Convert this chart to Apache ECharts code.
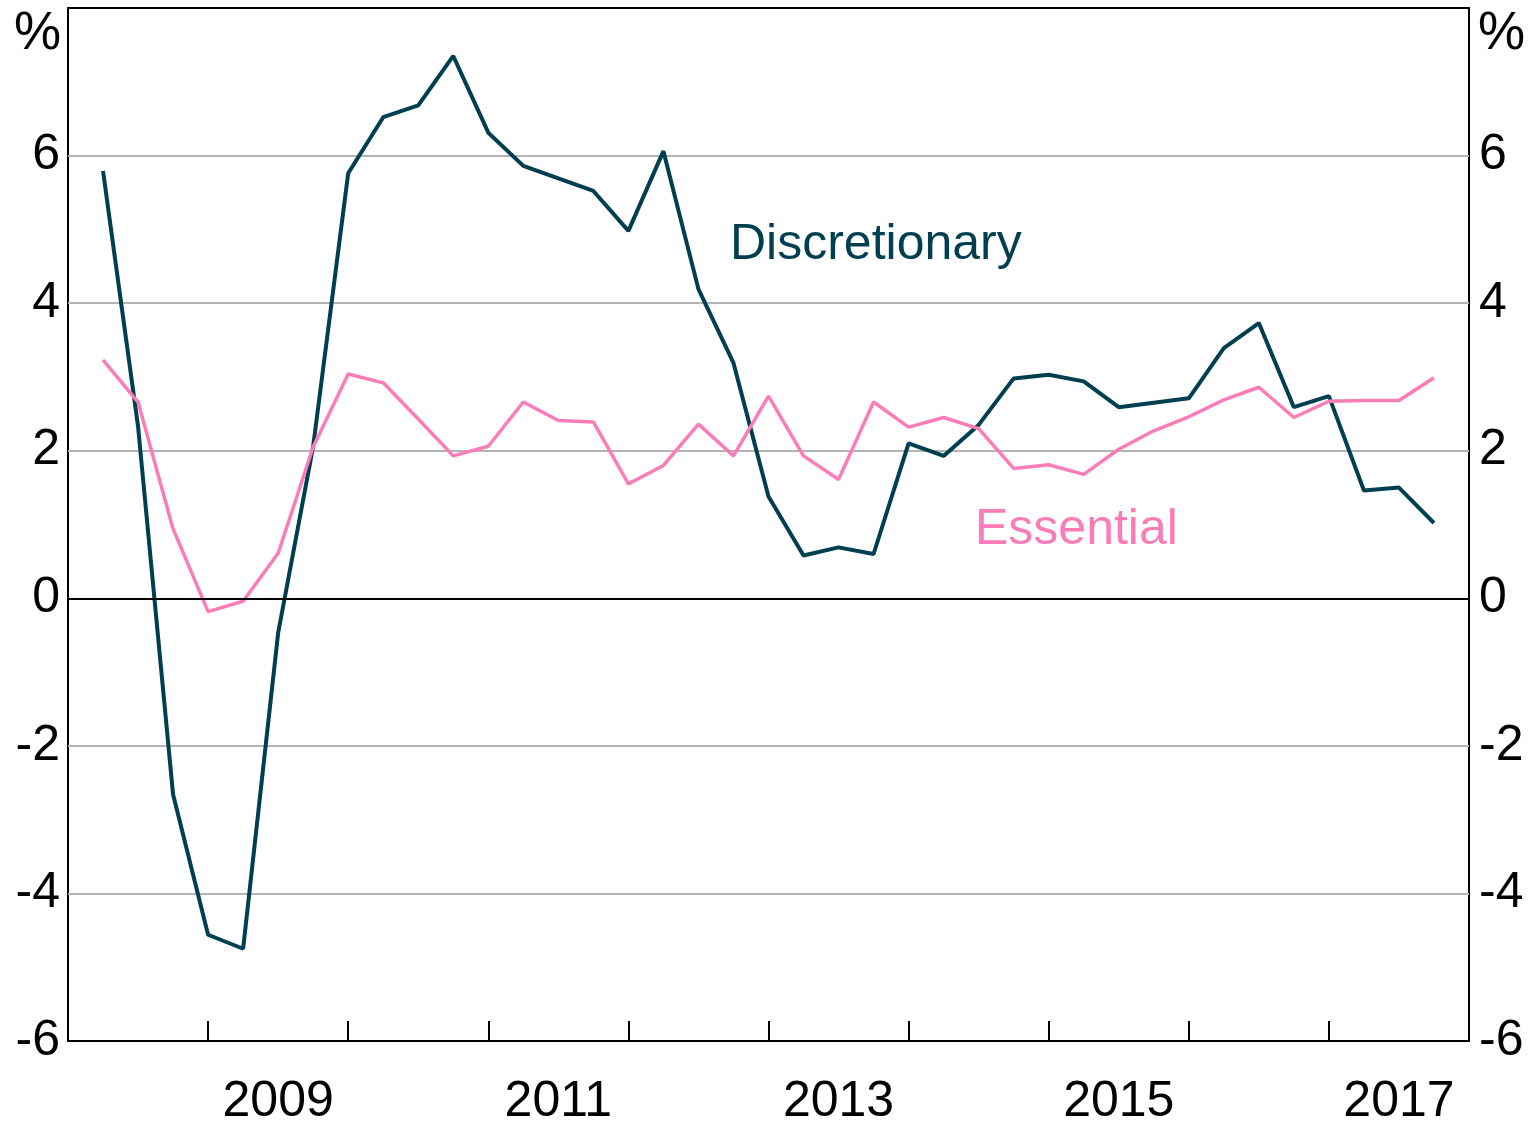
<!DOCTYPE html>
<html>
<head>
<meta charset="utf-8">
<script src="https://cdn.jsdelivr.net/npm/echarts@6/dist/echarts.min.js"></script>
<style>
html, body { margin: 0; padding: 0; background: #fff; }
#chart { width: 1534px; height: 1121px; }
</style>
</head>
<body>
<div id="chart"></div>
<script>
// quarterly observations, plotted as fractional years
var quarters = [2008.25, 2008.5, 2008.75, 2009, 2009.25, 2009.5, 2009.75, 2010, 2010.25, 2010.5,
    2010.75, 2011, 2011.25, 2011.5, 2011.75, 2012, 2012.25, 2012.5, 2012.75, 2013,
    2013.25, 2013.5, 2013.75, 2014, 2014.25, 2014.5, 2014.75, 2015, 2015.25, 2015.5,
    2015.75, 2016, 2016.25, 2016.5, 2016.75, 2017, 2017.25, 2017.5, 2017.75];
var discretionary = [5.79, 2.33, -2.66, -4.56, -4.75, -0.47, 2.06, 5.76, 6.52, 6.68,
    7.35, 6.31, 5.86, 5.69, 5.52, 4.98, 6.06, 4.19, 3.19, 1.38,
    0.58, 0.69, 0.60, 2.10, 1.93, 2.35, 2.98, 3.03, 2.94, 2.59,
    2.65, 2.71, 3.39, 3.73, 2.59, 2.74, 1.46, 1.50, 1.02];
var essential = [3.23, 2.66, 0.94, -0.18, -0.04, 0.61, 2.05, 3.04, 2.92, 2.43,
    1.93, 2.06, 2.66, 2.41, 2.39, 1.55, 1.80, 2.36, 1.93, 2.74,
    1.93, 1.61, 2.66, 2.32, 2.45, 2.30, 1.76, 1.81, 1.68, 2.02,
    2.27, 2.46, 2.69, 2.86, 2.45, 2.67, 2.68, 2.68, 2.99];
var tickYears = [2009, 2010, 2011, 2012, 2013, 2014, 2015, 2016, 2017];
var labelYears = [2009.5, 2011.5, 2013.5, 2015.5, 2017.5];

function pairs(xs, ys) {
    return ys.map(function (v, i) { return [xs[i], v]; });
}

var font = 'Liberation Sans, Arial, Helvetica, sans-serif';
var yLabel = {
    fontSize: 50,
    fontFamily: font,
    color: '#000',
    formatter: function (v) { return v === 8 ? '' : String(v); }
};

var option = {
    animation: false,
    backgroundColor: '#fff',
    grid: {
        left: 68,
        right: 65,
        top: 8,
        bottom: 80,
        outerBoundsMode: 'none',
        show: true,
        borderColor: '#000',
        borderWidth: 2
    },
    xAxis: {
        type: 'value',
        min: 2008,
        max: 2018,
        axisLine: { show: true, onZero: false, lineStyle: { color: '#000', width: 2 } },
        axisTick: {
            show: true,
            inside: true,
            length: 20,
            customValues: tickYears,
            lineStyle: { color: '#000', width: 2 }
        },
        axisLabel: {
            customValues: labelYears,
            fontSize: 50,
            fontFamily: font,
            color: '#000',
            margin: 36,
            formatter: function (v) { return String(Math.floor(v)); }
        },
        splitLine: { show: false }
    },
    yAxis: [
        {
            type: 'value',
            min: -6,
            max: 8,
            interval: 2,
            position: 'left',
            axisLine: { show: false },
            axisTick: { show: false },
            axisLabel: Object.assign({ margin: 8 }, yLabel),
            splitLine: {
                show: true,
                showMinLine: false,
                showMaxLine: false,
                lineStyle: { color: '#b4b4b4', width: 2 }
            }
        },
        {
            type: 'value',
            min: -6,
            max: 8,
            interval: 2,
            position: 'right',
            axisLine: { show: false },
            axisTick: { show: false },
            axisLabel: Object.assign({ margin: 10 }, yLabel),
            splitLine: { show: false }
        }
    ],
    graphic: [
        { type: 'text', left: 14, top: 8, style: { text: '%', fontSize: 53, fontFamily: font, fill: '#000' } },
        { type: 'text', left: 1478, top: 8, style: { text: '%', fontSize: 53, fontFamily: font, fill: '#000' } },
        { type: 'text', left: 730, top: 220, style: { text: 'Discretionary', fontSize: 50, fontFamily: font, fill: '#003f4f' } },
        { type: 'text', left: 975, top: 505, style: { text: 'Essential', fontSize: 50, fontFamily: font, fill: '#fb7db8' } }
    ],
    series: [
        {
            name: 'Discretionary',
            type: 'line',
            data: pairs(quarters, discretionary),
            symbol: 'none',
            lineStyle: { color: '#003f4f', width: 4 },
            markLine: {
                silent: true,
                symbol: 'none',
                label: { show: false },
                lineStyle: { color: '#000', width: 2, type: 'solid' },
                data: [{ yAxis: 0 }]
            },
            z: 2
        },
        {
            name: 'Essential',
            type: 'line',
            data: pairs(quarters, essential),
            symbol: 'none',
            lineStyle: { color: '#fb7db8', width: 3.5 },
            z: 3
        }
    ]
};

var myChart = echarts.init(document.getElementById('chart'));
myChart.setOption(option);
</script>
</body>
</html>
